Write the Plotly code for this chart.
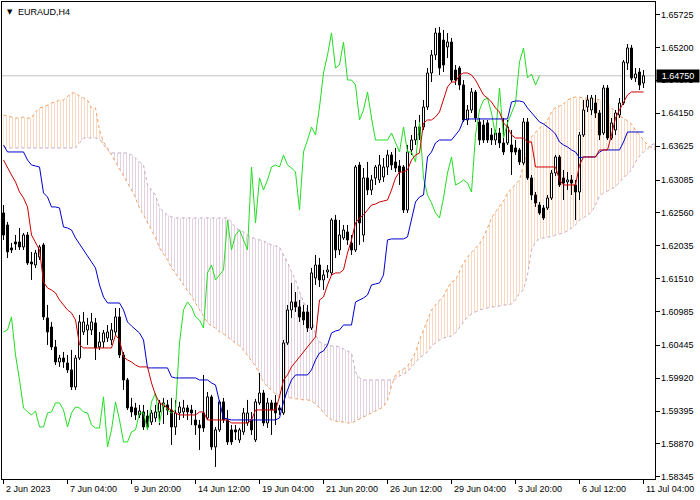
import plotly.graph_objects as go

# ---------------- data (EURAUD, H4) ----------------
symbol_label = "EURAUD,H4"
last_price = 1.64750
chikou_shift = 26

x_tick_bars = [0, 16, 32, 48, 64, 80, 96, 112, 128, 144, 160]
x_tick_labels = ["2 Jun 2023", "7 Jun 04:00", "9 Jun 20:00", "14 Jun 12:00", "19 Jun 04:00",
                 "21 Jun 20:00", "26 Jun 12:00", "29 Jun 04:00", "3 Jul 20:00", "6 Jul 12:00",
                 "11 Jul 04:00"]
y_tick_values = [1.65725, 1.65200, 1.64675, 1.64150, 1.63625, 1.63085, 1.62560, 1.62035,
                 1.61510, 1.60985, 1.60445, 1.59920, 1.59395, 1.58870, 1.58345]

open_ = [
    1.62559, 1.62367, 1.62000, 1.62096, 1.62096, 1.62016, 1.62207, 1.61776, 1.61728, 1.61856,
    1.62048, 1.60882, 1.60738, 1.60419, 1.60179, 1.60243, 1.60163, 1.60052, 1.59780, 1.60243,
    1.60658, 1.60690, 1.60690, 1.60802, 1.60419, 1.60499, 1.60563, 1.60531, 1.60658, 1.60898,
    1.60291, 1.59892, 1.59461, 1.59445, 1.59333, 1.59381, 1.59317, 1.59221, 1.59285, 1.59381,
    1.59461, 1.59493, 1.59413, 1.59141, 1.59365, 1.59381, 1.59445, 1.59413, 1.59253, 1.59173,
    1.59365, 1.59285, 1.59621, 1.58822, 1.59094, 1.59541, 1.59253, 1.59094, 1.59094, 1.58934,
    1.59062, 1.59205, 1.59253, 1.58934, 1.59525, 1.59684, 1.59205, 1.59525, 1.59525, 1.59445,
    1.59365, 1.60483, 1.61010, 1.61138, 1.61058, 1.60978, 1.60978, 1.60722, 1.61521, 1.61728,
    1.61489, 1.61617, 1.61601, 1.62447, 1.61968, 1.62160, 1.62255, 1.62080, 1.61968, 1.63325,
    1.62207, 1.63118, 1.62926, 1.63118, 1.63086, 1.63133, 1.63293, 1.63485, 1.63373, 1.63309,
    1.63293, 1.62607, 1.63565, 1.63724, 1.63932, 1.63932, 1.64251, 1.64794, 1.65082, 1.65433,
    1.65321, 1.65210, 1.65289, 1.64842, 1.64874, 1.64603, 1.64044, 1.64203, 1.64491, 1.64012,
    1.63964, 1.63996, 1.63804, 1.63724, 1.63836, 1.63677, 1.63677, 1.63645, 1.63597, 1.63565,
    1.63357, 1.64012, 1.63118, 1.62846, 1.62686, 1.62639, 1.62639, 1.62798, 1.63197, 1.63453,
    1.63118, 1.63054, 1.63086, 1.63006, 1.62894, 1.63804, 1.64251, 1.64203, 1.64315, 1.64155,
    1.63836, 1.64555, 1.63756, 1.63884, 1.64124, 1.64315, 1.64954, 1.65194, 1.64714, 1.64810,
    1.64634]

high = [
    1.62686, 1.62415, 1.62080, 1.62207, 1.62319, 1.62239, 1.62255, 1.61936, 1.61968, 1.62048,
    1.62080, 1.61090, 1.60818, 1.60531, 1.60291, 1.60339, 1.60291, 1.60371, 1.60291, 1.60930,
    1.60978, 1.60882, 1.60962, 1.60882, 1.60658, 1.60690, 1.60770, 1.60802, 1.61042, 1.61042,
    1.60339, 1.59924, 1.59605, 1.59525, 1.59493, 1.59493, 1.59413, 1.59413, 1.59493, 1.59573,
    1.59605, 1.59573, 1.59605, 1.59573, 1.59541, 1.59573, 1.59493, 1.59493, 1.59413, 1.59253,
    1.59972, 1.59700, 1.59653, 1.59141, 1.59573, 1.59605, 1.59413, 1.59173, 1.59173, 1.59126,
    1.59445, 1.59573, 1.59381, 1.59589, 1.60004, 1.59732, 1.59605, 1.59573, 1.59653, 1.59493,
    1.60531, 1.61090, 1.61441, 1.61297, 1.61169, 1.61090, 1.61090, 1.61681, 1.61888, 1.61840,
    1.61649, 1.61728, 1.62479, 1.62527, 1.62447, 1.62367, 1.62367, 1.62207, 1.63325, 1.63373,
    1.63277, 1.63373, 1.63165, 1.63325, 1.63485, 1.63437, 1.63565, 1.63533, 1.63597, 1.63405,
    1.63325, 1.63645, 1.63804, 1.64044, 1.64124, 1.64363, 1.64874, 1.65162, 1.65513, 1.65529,
    1.65481, 1.65433, 1.65353, 1.64922, 1.64906, 1.64682, 1.64283, 1.64555, 1.64523, 1.64076,
    1.64044, 1.64044, 1.63916, 1.63884, 1.63916, 1.64076, 1.64044, 1.63884, 1.63724, 1.63597,
    1.64076, 1.64076, 1.63165, 1.62894, 1.62734, 1.62686, 1.62846, 1.63245, 1.63485, 1.63485,
    1.63245, 1.63213, 1.63165, 1.63086, 1.63852, 1.64363, 1.64443, 1.64443, 1.64443, 1.64203,
    1.64603, 1.64603, 1.64076, 1.64203, 1.64395, 1.65002, 1.65257, 1.65242, 1.64874, 1.64874,
    1.64842]

low = [
    1.62128, 1.61840, 1.61920, 1.61968, 1.61968, 1.61968, 1.61728, 1.61489, 1.61680, 1.61808,
    1.60850, 1.60451, 1.60371, 1.60131, 1.60100, 1.60084, 1.60004, 1.59732, 1.59732, 1.60211,
    1.60610, 1.60451, 1.60610, 1.60211, 1.60371, 1.60403, 1.60499, 1.60451, 1.60610, 1.60243,
    1.59732, 1.59413, 1.59301, 1.59253, 1.59285, 1.59094, 1.59094, 1.59173, 1.59221, 1.59173,
    1.59189, 1.59333, 1.58854, 1.59014, 1.59253, 1.59285, 1.59253, 1.59173, 1.59014, 1.58774,
    1.59062, 1.59253, 1.58774, 1.58503, 1.59062, 1.59205, 1.58854, 1.58854, 1.58934, 1.58886,
    1.59014, 1.59158, 1.59014, 1.58902, 1.59493, 1.59158, 1.59126, 1.59014, 1.59173, 1.59333,
    1.59333, 1.60451, 1.60882, 1.60978, 1.60818, 1.60770, 1.60658, 1.60690, 1.61409, 1.61377,
    1.61329, 1.61521, 1.61569, 1.61840, 1.61888, 1.62128, 1.62048, 1.61888, 1.61936, 1.62048,
    1.62096, 1.62846, 1.62846, 1.63006, 1.63038, 1.63054, 1.63165, 1.63245, 1.63213, 1.63006,
    1.62559, 1.62559, 1.63485, 1.63645, 1.63724, 1.63884, 1.64203, 1.64650, 1.65002, 1.64762,
    1.64810, 1.65034, 1.64650, 1.64603, 1.64523, 1.64012, 1.63964, 1.64155, 1.64012, 1.63645,
    1.63677, 1.63677, 1.63645, 1.63645, 1.63597, 1.63485, 1.63645, 1.63165, 1.63485, 1.63325,
    1.63325, 1.63086, 1.62766, 1.62655, 1.62527, 1.62447, 1.62607, 1.62766, 1.63149, 1.62974,
    1.62766, 1.62926, 1.62846, 1.62447, 1.62766, 1.63772, 1.64171, 1.64124, 1.64076, 1.63724,
    1.63804, 1.63724, 1.63724, 1.63804, 1.64076, 1.64283, 1.64842, 1.64682, 1.64650, 1.64523,
    1.64555]

close = [
    1.62207, 1.61936, 1.61968, 1.62064, 1.62016, 1.62207, 1.61760, 1.61744, 1.61920, 1.62016,
    1.60898, 1.60658, 1.60419, 1.60179, 1.60243, 1.60179, 1.60052, 1.59780, 1.60243, 1.60818,
    1.60818, 1.60770, 1.60818, 1.60403, 1.60499, 1.60642, 1.60658, 1.60690, 1.60898, 1.60291,
    1.59892, 1.59445, 1.59381, 1.59333, 1.59397, 1.59141, 1.59141, 1.59365, 1.59381, 1.59525,
    1.59525, 1.59413, 1.59141, 1.59365, 1.59461, 1.59445, 1.59381, 1.59365, 1.59173, 1.59125,
    1.59125, 1.59621, 1.58822, 1.59094, 1.59541, 1.59253, 1.58902, 1.58902, 1.59062, 1.59094,
    1.59365, 1.59365, 1.59094, 1.59541, 1.59684, 1.59205, 1.59525, 1.59413, 1.59365, 1.59413,
    1.60483, 1.61010, 1.61138, 1.61058, 1.60898, 1.60850, 1.60722, 1.61601, 1.61728, 1.61489,
    1.61569, 1.61649, 1.62447, 1.61968, 1.62207, 1.62287, 1.62128, 1.61968, 1.63293, 1.62399,
    1.63118, 1.62926, 1.63086, 1.63293, 1.63325, 1.63293, 1.63485, 1.63325, 1.63277, 1.63213,
    1.62607, 1.63533, 1.63724, 1.63932, 1.63804, 1.64251, 1.64794, 1.65082, 1.65433, 1.64874,
    1.64922, 1.65289, 1.64682, 1.64682, 1.64603, 1.64044, 1.64203, 1.64491, 1.64076, 1.63724,
    1.63724, 1.63724, 1.63724, 1.63836, 1.63677, 1.63533, 1.63932, 1.63533, 1.63533, 1.63373,
    1.64012, 1.63118, 1.62846, 1.62718, 1.62559, 1.62479, 1.62798, 1.63197, 1.63453, 1.63006,
    1.63038, 1.63086, 1.63038, 1.62894, 1.63804, 1.64203, 1.64363, 1.64395, 1.64155, 1.63804,
    1.64555, 1.63756, 1.63996, 1.64155, 1.64315, 1.64970, 1.65194, 1.64714, 1.64778, 1.64603,
    1.64750]

tenkan_sen = [
    1.63405, 1.63277, 1.63165, 1.63054, 1.62894, 1.62798, 1.62655, 1.62207, 1.62096, 1.61968,
    1.61457, 1.61361, 1.61329, 1.61281, 1.61169, 1.61089, 1.61010, 1.60962, 1.60850, 1.60451,
    1.60403, 1.60403, 1.60403, 1.60403, 1.60403, 1.60403, 1.60403, 1.60403, 1.60610, 1.60531,
    1.60259, 1.60211, 1.60179, 1.60131, 1.60100, 1.60100, 1.60100, 1.59844, 1.59652, 1.59525,
    1.59493, 1.59445, 1.59413, 1.59365, 1.59333, 1.59333, 1.59333, 1.59333, 1.59333, 1.59381,
    1.59381, 1.59253, 1.59253, 1.59253, 1.59253, 1.59253, 1.59253, 1.59205, 1.59205, 1.59205,
    1.59205, 1.59205, 1.59253, 1.59413, 1.59413, 1.59413, 1.59413, 1.59413, 1.59413, 1.59621,
    1.59892, 1.59972, 1.60100, 1.60179, 1.60259, 1.60339, 1.60419, 1.60515, 1.60579, 1.61169,
    1.61217, 1.61409, 1.61569, 1.61601, 1.61601, 1.61649, 1.61920, 1.62128, 1.62399, 1.62479,
    1.62527, 1.62607, 1.62686, 1.62702, 1.62734, 1.62750, 1.62766, 1.62926, 1.63118, 1.63213,
    1.63213, 1.63245, 1.63405, 1.63485, 1.63517, 1.63996, 1.64044, 1.64044, 1.64092, 1.64171,
    1.64363, 1.64571, 1.64650, 1.64650, 1.64762, 1.64794, 1.64794, 1.64762, 1.64682, 1.64571,
    1.64443, 1.64395, 1.64331, 1.64235, 1.64171, 1.63996, 1.63932, 1.63804, 1.63756, 1.63756,
    1.63756, 1.63692, 1.63692, 1.63293, 1.63293, 1.63293, 1.63293, 1.63293, 1.63293, 1.63086,
    1.63006, 1.63006, 1.63006, 1.63006, 1.63325, 1.63453, 1.63453, 1.63453, 1.63453, 1.63565,
    1.63565, 1.63565, 1.63804, 1.64076, 1.64203, 1.64315, 1.64443, 1.64491, 1.64491, 1.64491,
    1.64491]

kijun_sen = [
    1.63645, 1.63533, 1.63533, 1.63533, 1.63533, 1.63533, 1.63405, 1.63325, 1.63309, 1.63293,
    1.62878, 1.62814, 1.62655, 1.62655, 1.62639, 1.62335, 1.62319, 1.62287, 1.62160, 1.62064,
    1.61968, 1.61888, 1.61776, 1.61680, 1.61409, 1.61217, 1.61121, 1.61121, 1.61121, 1.61121,
    1.61010, 1.60818, 1.60754, 1.60690, 1.60642, 1.60531, 1.60084, 1.60084, 1.60084, 1.60084,
    1.60084, 1.60084, 1.59940, 1.59924, 1.59924, 1.59924, 1.59924, 1.59924, 1.59924, 1.59892,
    1.59892, 1.59892, 1.59844, 1.59812, 1.59541, 1.59285, 1.59269, 1.59253, 1.59253, 1.59253,
    1.59253, 1.59253, 1.59253, 1.59253, 1.59253, 1.59253, 1.59253, 1.59253, 1.59253, 1.59285,
    1.59541, 1.59732, 1.59892, 1.59972, 1.59972, 1.59972, 1.59972, 1.60052, 1.60211, 1.60323,
    1.60355, 1.60451, 1.60642, 1.60674, 1.60690, 1.60770, 1.60770, 1.60770, 1.61137, 1.61169,
    1.61201, 1.61249, 1.61409, 1.61425, 1.61441, 1.61569, 1.62128, 1.62144, 1.62144, 1.62144,
    1.62144, 1.62176, 1.62447, 1.62734, 1.62814, 1.62846, 1.63453, 1.63533, 1.63677, 1.63724,
    1.63724, 1.63724, 1.63724, 1.63804, 1.63884, 1.64044, 1.64060, 1.64060, 1.64060, 1.64060,
    1.64060, 1.64060, 1.64060, 1.64060, 1.64060, 1.64060, 1.64060, 1.64331, 1.64347, 1.64347,
    1.64331, 1.64235, 1.64155, 1.64090, 1.64012, 1.63980, 1.63932, 1.63884, 1.63820, 1.63692,
    1.63645, 1.63613, 1.63565, 1.63533, 1.63437, 1.63453, 1.63453, 1.63453, 1.63453, 1.63533,
    1.63565, 1.63565, 1.63565, 1.63565, 1.63565, 1.63692, 1.63852, 1.63852, 1.63852, 1.63852,
    1.63852]

# Senkou spans, already shifted 26 bars forward (positions 0..163)
senkou_a = [
    1.64124, 1.64107, 1.64091, 1.64075, 1.64075, 1.64091, 1.64075, 1.64075, 1.64171, 1.64235,
    1.64251, 1.64283, 1.64315, 1.64331, 1.64363, 1.64363, 1.64427, 1.64475, 1.64475, 1.64427,
    1.64395, 1.64363, 1.64235, 1.64235, 1.63884, 1.63692, 1.63597, 1.63485, 1.63373, 1.63277,
    1.63165, 1.63054, 1.62926, 1.62798, 1.62639, 1.62527, 1.62415, 1.62287, 1.62160, 1.62000,
    1.61904, 1.61808, 1.61681, 1.61601, 1.61505, 1.61409, 1.61329, 1.61233, 1.61121, 1.61010,
    1.60914, 1.60802, 1.60754, 1.60722, 1.60658, 1.60626, 1.60579, 1.60531, 1.60483, 1.60435,
    1.60371, 1.60275, 1.60195, 1.60115, 1.59972, 1.59860, 1.59780, 1.59732, 1.59668, 1.59621,
    1.59605, 1.59605, 1.59605, 1.59589, 1.59589, 1.59573, 1.59573, 1.59557, 1.59509, 1.59445,
    1.59365, 1.59301, 1.59253, 1.59237, 1.59221, 1.59221, 1.59205, 1.59205, 1.59237, 1.59269,
    1.59301, 1.59333, 1.59365, 1.59397, 1.59429, 1.59461, 1.59573, 1.59796, 1.59972, 1.60036,
    1.60068, 1.60115, 1.60211, 1.60339, 1.60531, 1.60690, 1.60850, 1.61010, 1.61089, 1.61153,
    1.61233, 1.61361, 1.61457, 1.61489, 1.61617, 1.61761, 1.61856, 1.61936, 1.62000, 1.62064,
    1.62176, 1.62319, 1.62479, 1.62575, 1.62671, 1.62750, 1.62878, 1.62942, 1.63006, 1.63086,
    1.63325, 1.63597, 1.63772, 1.63852, 1.63916, 1.63964, 1.64044, 1.64171, 1.64251, 1.64267,
    1.64299, 1.64363, 1.64395, 1.64411, 1.64411, 1.64395, 1.64395, 1.64379, 1.64379, 1.64363,
    1.64363, 1.64299, 1.64235, 1.64171, 1.64107, 1.64075, 1.64028, 1.63980, 1.63884, 1.63804,
    1.63724, 1.63645, 1.63597, 1.63565]

senkou_b = [
    1.63613, 1.63597, 1.63597, 1.63597, 1.63597, 1.63597, 1.63597, 1.63597, 1.63597, 1.63597,
    1.63597, 1.63597, 1.63597, 1.63597, 1.63597, 1.63597, 1.63597, 1.63597, 1.63597, 1.63677,
    1.63756, 1.63756, 1.63756, 1.63756, 1.63740, 1.63645, 1.63565, 1.63517, 1.63517, 1.63517,
    1.63517, 1.63517, 1.63485, 1.63437, 1.63373, 1.63325, 1.63006, 1.62926, 1.62846, 1.62639,
    1.62575, 1.62527, 1.62495, 1.62479, 1.62479, 1.62479, 1.62479, 1.62479, 1.62479, 1.62479,
    1.62479, 1.62479, 1.62479, 1.62479, 1.62479, 1.62479, 1.62479, 1.62415, 1.62319, 1.62287,
    1.62255, 1.62207, 1.62176, 1.62144, 1.62128, 1.62112, 1.62080, 1.62048, 1.62032, 1.62016,
    1.61888, 1.61776, 1.61617, 1.61489, 1.61297, 1.61137, 1.61010, 1.60914, 1.60610, 1.60499,
    1.60467, 1.60451, 1.60435, 1.60435, 1.60419, 1.60387, 1.60355, 1.60323, 1.60020, 1.59924,
    1.59892, 1.59892, 1.59892, 1.59892, 1.59892, 1.59892, 1.59892, 1.59892, 1.59908, 1.59956,
    1.59988, 1.60020, 1.60100, 1.60179, 1.60243, 1.60291, 1.60339, 1.60435, 1.60483, 1.60531,
    1.60563, 1.60579, 1.60595, 1.60642, 1.60738, 1.60818, 1.60898, 1.60946, 1.60978, 1.61010,
    1.61026, 1.61042, 1.61058, 1.61058, 1.61073, 1.61089, 1.61089, 1.61105, 1.61169, 1.61281,
    1.61329, 1.61569, 1.61968, 1.62096, 1.62144, 1.62160, 1.62176, 1.62176, 1.62207, 1.62223,
    1.62239, 1.62271, 1.62319, 1.62367, 1.62447, 1.62479, 1.62527, 1.62575, 1.62686, 1.62830,
    1.62878, 1.62910, 1.62942, 1.62974, 1.63054, 1.63118, 1.63165, 1.63245, 1.63373, 1.63469,
    1.63533, 1.63581, 1.63645, 1.63677]

# ---------------- colours ----------------
COL_TENKAN = "#cc0000"
COL_KIJUN = "#0000cc"
COL_CHIKOU = "#22dd22"
COL_SPAN_A = "#f0a060"
COL_SPAN_B = "#c8a8c8"
COL_HATCH_A = "rgba(238,160,100,0.9)"
COL_HATCH_B = "rgba(185,140,175,0.9)"

fig = go.Figure()
n_bars = len(close)
bars = list(range(n_bars))

# ---------------- Kumo (cloud) ----------------
def cloud_segments(a, b):
    segs = []
    kind = None
    cur = []
    for k in range(len(a)):
        this = a[k] >= b[k]
        if kind is None:
            kind = this
            cur = [(k, a[k], b[k])]
        elif this == kind:
            cur.append((k, a[k], b[k]))
        else:
            d0 = a[k - 1] - b[k - 1]
            d1 = a[k] - b[k]
            t = d0 / (d0 - d1)
            xc = k - 1 + t
            yc = a[k - 1] + t * (a[k] - a[k - 1])
            cur.append((xc, yc, yc))
            segs.append((kind, cur))
            kind = this
            cur = [(xc, yc, yc), (k, a[k], b[k])]
    segs.append((kind, cur))
    return segs

for a_up, seg in cloud_segments(senkou_a, senkou_b):
    xs = [p[0] for p in seg] + [p[0] for p in reversed(seg)]
    ys = [p[1] for p in seg] + [p[2] for p in reversed(seg)]
    hatch = COL_HATCH_A if a_up else COL_HATCH_B
    fig.add_trace(go.Scatter(
        x=xs, y=ys, mode="lines", fill="toself", line=dict(width=0),
        fillcolor="rgba(0,0,0,0)",
        fillpattern=dict(shape="|", size=3, solidity=0.3, fgcolor=hatch,
                         bgcolor="rgba(0,0,0,0)"),
        hoverinfo="skip", showlegend=False))

pos = list(range(len(senkou_a)))
fig.add_trace(go.Scatter(x=pos, y=senkou_b, mode="lines",
                         line=dict(color=COL_SPAN_B, width=1, dash="dot"),
                         hoverinfo="skip", showlegend=False))
fig.add_trace(go.Scatter(x=pos, y=senkou_a, mode="lines",
                         line=dict(color=COL_SPAN_A, width=1, dash="dot"),
                         hoverinfo="skip", showlegend=False))

# ---------------- candles ----------------
wx, wy = [], []
for i in bars:
    wx += [i, i, None]
    wy += [low[i], high[i], None]
fig.add_trace(go.Scatter(x=wx, y=wy, mode="lines", line=dict(color="black", width=1),
                         hoverinfo="skip", showlegend=False))

hw = 0.25
def bodies(up):
    xs, ys = [], []
    for i in bars:
        o, c = open_[i], close[i]
        if (c >= o) != up:
            continue
        xs += [i - hw, i + hw, i + hw, i - hw, i - hw, None]
        ys += [o, o, c, c, o, None]
    return xs, ys

bx, by = bodies(True)
fig.add_trace(go.Scatter(x=bx, y=by, mode="lines", fill="toself", fillcolor="white",
                         line=dict(color="black", width=1), hoverinfo="skip", showlegend=False))
bx, by = bodies(False)
fig.add_trace(go.Scatter(x=bx, y=by, mode="lines", fill="toself", fillcolor="black",
                         line=dict(color="black", width=1), hoverinfo="skip", showlegend=False))

# ---------------- Ichimoku lines ----------------
fig.add_trace(go.Scatter(x=[i - chikou_shift for i in bars[chikou_shift:]],
                         y=close[chikou_shift:], mode="lines",
                         line=dict(color=COL_CHIKOU, width=1), hoverinfo="skip", showlegend=False))
fig.add_trace(go.Scatter(x=bars, y=kijun_sen, mode="lines",
                         line=dict(color=COL_KIJUN, width=1), hoverinfo="skip", showlegend=False))
fig.add_trace(go.Scatter(x=bars, y=tenkan_sen, mode="lines",
                         line=dict(color=COL_TENKAN, width=1), hoverinfo="skip", showlegend=False))

# current price line
fig.add_shape(type="line", xref="paper", x0=0, x1=1, yref="y", y0=last_price, y1=last_price,
              line=dict(color="#c0c0c0", width=1), layer="below")

FONT = "Liberation Sans"
annotations = []
for b, t in zip(x_tick_bars, x_tick_labels):
    annotations.append(dict(x=b, xref="x", y=0, yref="paper", text=t, showarrow=False,
                            xanchor="left", yanchor="top", xshift=0, yshift=-3,
                            font=dict(family=FONT, size=9, color="black")))
for v in y_tick_values:
    annotations.append(dict(x=1, xref="paper", y=v, yref="y", text=f"{v:.5f}",
                            showarrow=False, xanchor="left", yanchor="middle", xshift=4,
                            font=dict(family=FONT, size=9, color="black")))
annotations.append(dict(x=0, xref="paper", y=1, yref="paper", text=symbol_label,
                        showarrow=False, xanchor="left", yanchor="top", xshift=14, yshift=-3,
                        font=dict(family=FONT, size=9, color="black")))
annotations.append(dict(x=0, xref="paper", y=1, yref="paper", text="\u25bc",
                        showarrow=False, xanchor="left", yanchor="top", xshift=3, yshift=-4,
                        font=dict(family="DejaVu Sans", size=7, color="black")))
annotations.append(dict(x=1, xref="paper", y=last_price, yref="y", text=f"{last_price:.5f}",
                        showarrow=False, xanchor="left", yanchor="middle", xshift=1,
                        bgcolor="black", width=42, height=12, borderpad=0,
                        font=dict(family=FONT, size=9, color="white")))

fig.update_layout(
    width=700, height=500,
    margin=dict(l=2, r=45, t=2, b=21),
    paper_bgcolor="white", plot_bgcolor="white",
    showlegend=False,
    annotations=annotations,
    xaxis=dict(range=[-0.375, 162.875], tickvals=x_tick_bars, showticklabels=False,
               ticks="outside", ticklen=4, tickcolor="black", showgrid=False,
               zeroline=False, showline=True, mirror=True, linecolor="black", linewidth=1),
    yaxis=dict(range=[1.58310, 1.65928], side="right", tickvals=y_tick_values,
               showticklabels=False,
               ticks="outside", ticklen=4, tickcolor="black", showgrid=False,
               zeroline=False, showline=True, mirror=True, linecolor="black", linewidth=1),
)

fig.write_html("out.html",
               config={"displayModeBar": False, "staticPlot": True},
               post_script="document.body.style.margin='0';document.body.style.padding='0';"
                           "document.body.style.overflow='hidden';")
